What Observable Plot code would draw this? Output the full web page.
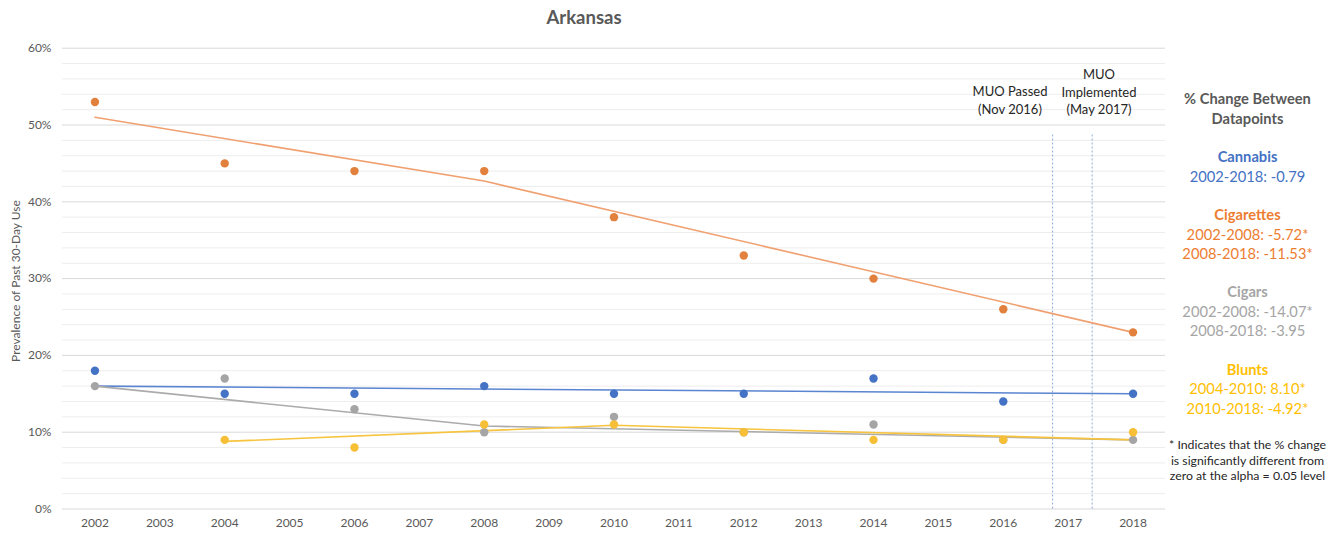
<!DOCTYPE html>
<html>
<head>
<meta charset="utf-8">
<script src="https://cdn.jsdelivr.net/npm/d3@7"></script>
<script src="https://cdn.jsdelivr.net/npm/@observablehq/plot@0.6"></script>
<style>
  body { margin: 0; background: #fff; font-family: Lato, "Open Sans", sans-serif; }
  #wrap { position: relative; width: 1341px; height: 533px; }
  .abs { position: absolute; white-space: nowrap; line-height: 1; }
  .c { transform: translateX(-50%); text-align: center; }
</style>
</head>
<body>
<div id="wrap"></div>
<script>
// ---- data ----
const years = [2002, 2004, 2006, 2008, 2010, 2012, 2014, 2016, 2018];
const cannabis   = [18, 15, 15, 16, 15, 15, 17, 14, 15];
const cigarettes = [53, 45, 44, 44, 38, 33, 30, 26, 23];
const cigars     = [16, 17, 13, 10, 12, 10, 11, 9, 9];
const blunts     = [null, 9, 8, 11, 11, 10, 9, 9, 10];

const cannabisTrendYears = [2002, 2018];
const cannabisTrend      = [16.0, 15.0];
const cigaretteTrendYears = [2002, 2008, 2018];
const cigaretteTrend      = [51.0, 42.7, 23.0];
const cigarTrendYears = [2002, 2008, 2018];
const cigarTrend      = [16.0, 10.8, 9.0];
const bluntTrendYears = [2004, 2010, 2018];
const bluntTrend      = [8.8, 10.9, 9.0];

const muoEvents = [2016.76, 2017.37];
const xTicks = d3.range(2002, 2019);
const yMajor = [0, 10, 20, 30, 40, 50, 60];
const yMinor = d3.range(0, 61, 2).filter(d => d % 10 !== 0);

const colors = {
  cannabis: "#4472C4", cannabisLine: "#5A85D0",
  cigarettes: "#E2803E", cigarettesLine: "#F0A070",
  cigars: "#A5A5A5", cigarsLine: "#ABABAB",
  blunts: "#F7BF36", bluntsLine: "#F7C43F"
};

const pts = (vals) => years.map((y, i) => ({x: y, y: vals[i]})).filter(d => d.y != null);
const trend = (ys, vals) => ys.map((y, i) => ({x: y, y: vals[i]}));

const chart = Plot.plot({
  width: 1341,
  height: 533,
  marginLeft: 62,
  marginRight: 176,
  marginTop: 47.7,
  marginBottom: 24.5,
  style: {fontFamily: "Lato, 'Open Sans', sans-serif", fontSize: "12px", color: "#595959", background: "transparent"},
  x: {type: "linear", domain: [2001.5, 2018.5]},
  y: {domain: [0, 60]},
  marks: [
    Plot.ruleY(yMinor, {stroke: "#EDEDED", strokeWidth: 1}),
    Plot.ruleY(yMajor, {stroke: "#D9D9D9", strokeWidth: 1}),
    Plot.ruleX(muoEvents, {y1: 0, y2: 48.8, stroke: "#8FAADC", strokeWidth: 1, strokeDasharray: "2,2"}),
    Plot.axisX({ticks: xTicks, tickFormat: d => String(d), tickSize: 0, tickPadding: 9, label: null}),
    Plot.axisY({ticks: yMajor, tickFormat: d => d + "%", tickSize: 0, tickPadding: 11, label: null}),
    Plot.line(trend(cannabisTrendYears, cannabisTrend), {x: "x", y: "y", stroke: colors.cannabisLine, strokeWidth: 1.6}),
    Plot.line(trend(cigaretteTrendYears, cigaretteTrend), {x: "x", y: "y", stroke: colors.cigarettesLine, strokeWidth: 1.6}),
    Plot.line(trend(cigarTrendYears, cigarTrend), {x: "x", y: "y", stroke: colors.cigarsLine, strokeWidth: 1.6}),
    Plot.line(trend(bluntTrendYears, bluntTrend), {x: "x", y: "y", stroke: colors.bluntsLine, strokeWidth: 1.6}),
    Plot.dot(pts(cannabis), {x: "x", y: "y", r: 4.2, fill: colors.cannabis}),
    Plot.dot(pts(cigarettes), {x: "x", y: "y", r: 4.2, fill: colors.cigarettes}),
    Plot.dot(pts(cigars), {x: "x", y: "y", r: 4.2, fill: colors.cigars}),
    Plot.dot(pts(blunts), {x: "x", y: "y", r: 4.2, fill: colors.blunts})
  ]
});
chart.style.position = "absolute";
chart.style.left = "0px";
chart.style.top = "0px";
const wrap = document.getElementById("wrap");
wrap.appendChild(chart);

function addText(html, left, top, style) {
  const d = document.createElement("div");
  d.className = "abs c";
  d.innerHTML = html;
  d.style.left = left + "px";
  d.style.top = top + "px";
  Object.assign(d.style, style || {});
  wrap.appendChild(d);
  return d;
}

// title
addText("Arkansas", 584, 8, {fontSize: "18.5px", fontWeight: "700", color: "#595959"});

// y label
const yl = document.createElement("div");
yl.className = "abs";
yl.textContent = "Prevalence of Past 30-Day Use";
Object.assign(yl.style, {left: "16px", top: "281px", fontSize: "12px", color: "#595959",
  transform: "translate(-50%,-50%) rotate(-90deg)"});
wrap.appendChild(yl);

// MUO annotations
const ann = {fontSize: "13px", color: "#262626", lineHeight: "17.5px"};
addText("MUO Passed<br>(Nov 2016)", 1010, 83, ann);
addText("MUO<br>Implemented<br>(May 2017)", 1099, 66, ann);

// right panel
const cx = 1247.5;
const lh = {fontSize: "14.7px", lineHeight: "19.5px"};
addText("% Change Between<br>Datapoints", cx, 89, Object.assign({fontWeight: "700", color: "#595959"}, lh));
addText("<b>Cannabis</b><br>2002-2018: -0.79", cx, 147, Object.assign({color: "#4472C4"}, lh));
addText("<b>Cigarettes</b><br>2002-2008: -5.72*<br>2008-2018: -11.53*", cx, 205, Object.assign({color: "#ED7D31"}, lh));
addText("<b>Cigars</b><br>2002-2008: -14.07*<br>2008-2018: -3.95", cx, 282, Object.assign({color: "#A5A5A5"}, lh));
addText("<b>Blunts</b><br>2004-2010: 8.10*<br>2010-2018: -4.92*", cx, 359.5, Object.assign({color: "#FFC000"}, lh));
addText("* Indicates that the % change<br>is significantly different from<br>zero at the alpha = 0.05 level", cx, 437,
  {fontSize: "12.3px", lineHeight: "15.7px", color: "#262626"});
</script>
</body>
</html>
